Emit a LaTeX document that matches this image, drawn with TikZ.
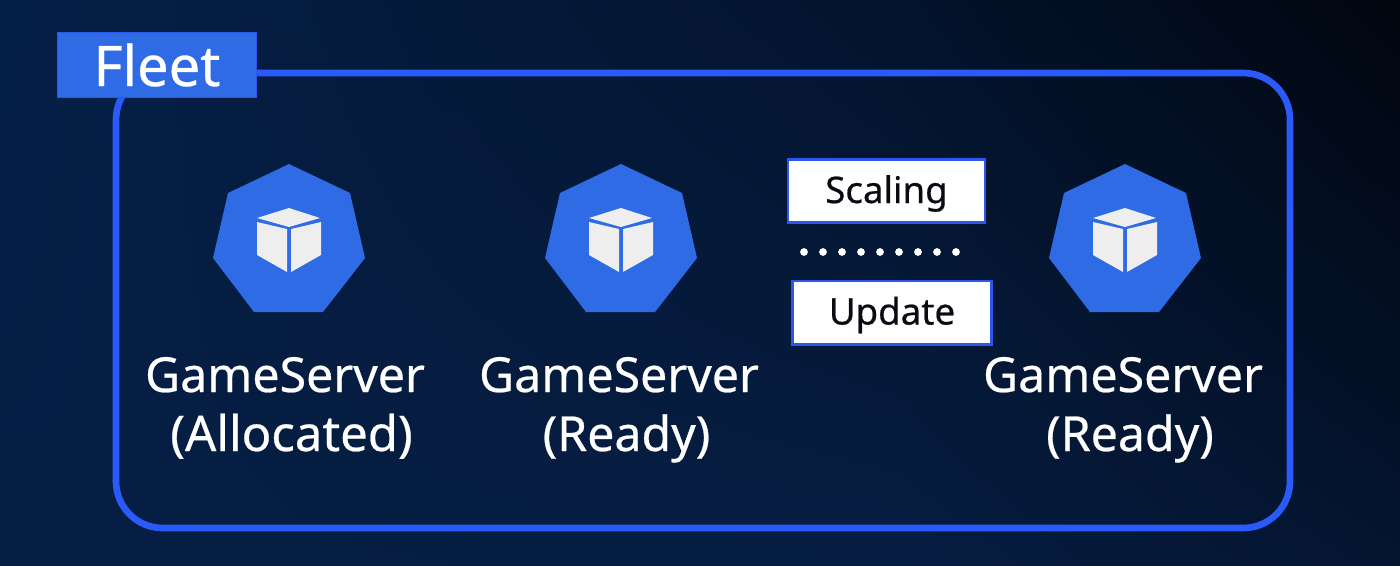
\documentclass[tikz,border=0pt]{standalone}
\usepackage{fontspec}
\usetikzlibrary{shadings}
\setmainfont[FakeBold=0.5]{Noto Sans}
\definecolor{framec}{HTML}{2A5AFA}
\definecolor{hexc}{HTML}{2F6BE4}
\definecolor{cubec}{HTML}{EEEEEE}
\definecolor{edgec}{HTML}{2A58EE}
\definecolor{inkc}{HTML}{0A0A12}
\definecolor{cUL}{HTML}{052048}
\definecolor{cLL}{HTML}{071E44}
\definecolor{cUM}{HTML}{03132C}
\definecolor{cLM}{HTML}{061D42}
\definecolor{cUR}{HTML}{01060F}
\definecolor{cLR}{HTML}{041530}
\tikzset{
  x=0.75pt,y=-0.75pt,
  heptagon/.style={fill=hexc,draw=none},
  cubeface/.style={fill=cubec,draw=none},
  tagbox/.style={draw=edgec,line width=2pt,fill=white,inner sep=0pt,text=inkc,text height=21pt,text depth=3pt,font=\fontsize{27.5}{32}\selectfont},
  serverlabel/.style={text=white,anchor=base,inner sep=0pt,font=\fontsize{36.2}{42}\selectfont},
  dotmark/.style={fill=white,draw=none},
}
\newcommand{\serverglyph}[1]{%
  \begin{scope}[xshift=#1*0.75pt]
    \fill[heptagon] (289,164)--(350,193)--(365,258)--(323,312)--(254,312)--(213,258)--(228,193)--cycle;
    \fill[cubeface] (289,208)--(320,218)--(289,227)--(257,218)--cycle;
    \fill[cubeface] (257,222)--(287,229)--(287,272)--(257,255)--cycle;
    \fill[cubeface] (291,229)--(321,222)--(321,255)--(291,272)--cycle;
  \end{scope}}
\begin{document}
\begin{tikzpicture}
  \useasboundingbox (0,0) rectangle (1400,565);
  \shade[upper left=cUL, lower left=cLL, upper right=cUM, lower right=cLM] (0,0) rectangle (900.5,565);
  \shade[upper left=cUM, lower left=cLM, upper right=cUR, lower right=cLR] (900,0) rectangle (1400,565);
  % frame
  \draw[framec,line width=5pt,rounded corners=35pt] (116,73) rectangle (1290,528);
  % fleet tag
  \node[draw=edgec,line width=1pt,fill=hexc,minimum width=149pt,minimum height=49pt,inner sep=0pt,text=white,font=\fontsize{42}{48}\selectfont] (fleet) at (157,65) {Fleet};
  % icons
  \serverglyph{0}
  \serverglyph{332}
  \serverglyph{836}
  % labels
  \node[serverlabel] (gsa) at (285,392) {GameServer};
  \node[serverlabel,font=\fontsize{36.8}{42}\selectfont] (gsal) at (291.5,451) {(Allocated)};
  \node[serverlabel] (gsb) at (619,392) {GameServer};
  \node[serverlabel] (gsbr) at (626.5,451) {(Ready)};
  \node[serverlabel] (gsc) at (1123,392) {GameServer};
  \node[serverlabel] (gscr) at (1130,451) {(Ready)};
  % tags
  \node[tagbox,minimum width=147.8pt,minimum height=47pt] (scaling) at (886.5,191) {Scaling};
  \node[tagbox,minimum width=149pt,minimum height=47.5pt] (update) at (892,312.5) {Update};
  % dots
  \foreach \i in {0,...,8} \fill[dotmark] ({804+19*\i},252) circle (2.9pt);
\end{tikzpicture}
\end{document}
